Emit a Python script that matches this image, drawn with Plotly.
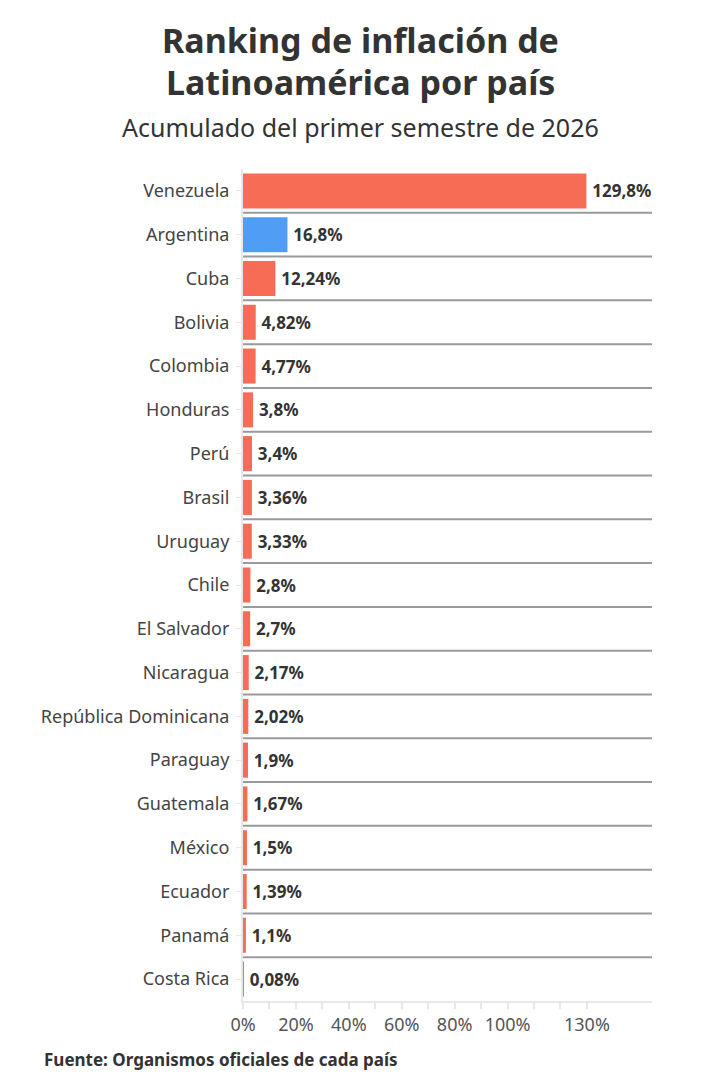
import plotly.graph_objects as go

paises = ["Venezuela", "Argentina", "Cuba", "Bolivia", "Colombia", "Honduras", "Perú",
          "Brasil", "Uruguay", "Chile", "El Salvador", "Nicaragua", "República Dominicana",
          "Paraguay", "Guatemala", "México", "Ecuador", "Panamá", "Costa Rica"]
inflacion = [129.8, 16.8, 12.24, 4.82, 4.77, 3.8, 3.4, 3.36, 3.33, 2.8, 2.7, 2.17, 2.02,
             1.9, 1.67, 1.5, 1.39, 1.1, 0.08]
tick_vals = [0, 10, 20, 30, 40, 50, 60, 70, 80, 90, 100, 110, 120, 130]
tick_text = ["0%", "", "20%", "", "40%", "", "60%", "", "80%", "", "100%", "", "", "130%"]

RED = "#F76C55"
BLUE = "#4F9DF4"
FONT = "Noto Sans"
L, R, T, B = 243, 68, 169, 85
PW = 720 - L - R

colors = [BLUE if p == "Argentina" else RED for p in paises]
labels = ["\u2009" + str(v).replace(".", ",") + "%" for v in inflacion]

fig = go.Figure(go.Bar(
    x=inflacion, y=paises, orientation="h",
    marker=dict(color=colors, line=dict(width=0)),
    text=labels, textposition="outside", cliponaxis=False,
    textfont=dict(family=FONT, size=17, color="#333333", weight="bold"),
))

shapes = []
for i in range(len(paises) - 1):
    shapes.append(dict(type="line", xref="x domain", yref="y", x0=0, x1=1,
                       y0=i + 0.5, y1=i + 0.5, line=dict(color="#9a9a9a", width=2)))

center_x = (360 - L) / PW
annotations = [
    dict(text="<b>Ranking de inflación de</b>", xref="paper", yref="paper",
         x=center_x, y=1, xanchor="center", yanchor="middle", yshift=T - 40,
         showarrow=False, font=dict(family=FONT, size=34, color="#333333")),
    dict(text="<b>Latinoamérica por país</b>", xref="paper", yref="paper",
         x=center_x, y=1, xanchor="center", yanchor="middle", yshift=T - 82,
         showarrow=False, font=dict(family=FONT, size=34, color="#333333")),
    dict(text="Acumulado del primer semestre de 2026", xref="paper", yref="paper",
         x=center_x, y=1, xanchor="center", yanchor="middle", yshift=T - 127,
         showarrow=False, font=dict(family=FONT, size=25, color="#333333")),
    dict(text="<b>Fuente: Organismos oficiales de cada país</b>", xref="paper", yref="paper",
         x=(42 - L) / PW, y=0, xanchor="left", yanchor="middle", yshift=-(1059 - (1086 - B)),
         showarrow=False, font=dict(family=FONT, size=17, color="#333333")),
]

fig.update_layout(
    width=720, height=1086,
    margin=dict(l=L, r=R, t=T, b=B),
    paper_bgcolor="white", plot_bgcolor="white",
    bargap=0.2, showlegend=False,
    font=dict(family=FONT, color="#444444"),
    shapes=shapes,
    annotations=annotations,
    xaxis=dict(
        range=[0, 154.6], tickvals=tick_vals, ticktext=tick_text,
        showgrid=False, zeroline=False, showline=True, linecolor="#e8e8e8", linewidth=2,
        ticks="outside", ticklen=6, tickcolor="#e8e8e8", tickwidth=1.5,
        tickfont=dict(family=FONT, size=18, color="#555555"),
    ),
    yaxis=dict(
        categoryorder="array", categoryarray=paises, autorange="reversed",
        showgrid=False, zeroline=False, showline=True, linecolor="#e8e8e8", linewidth=2,
        ticks="outside", ticklen=5, tickcolor="#e8e8e8", ticklabelstandoff=3,
        tickfont=dict(family=FONT, size=18, color="#444444"),
    ),
)

fig.write_html("out.html")
